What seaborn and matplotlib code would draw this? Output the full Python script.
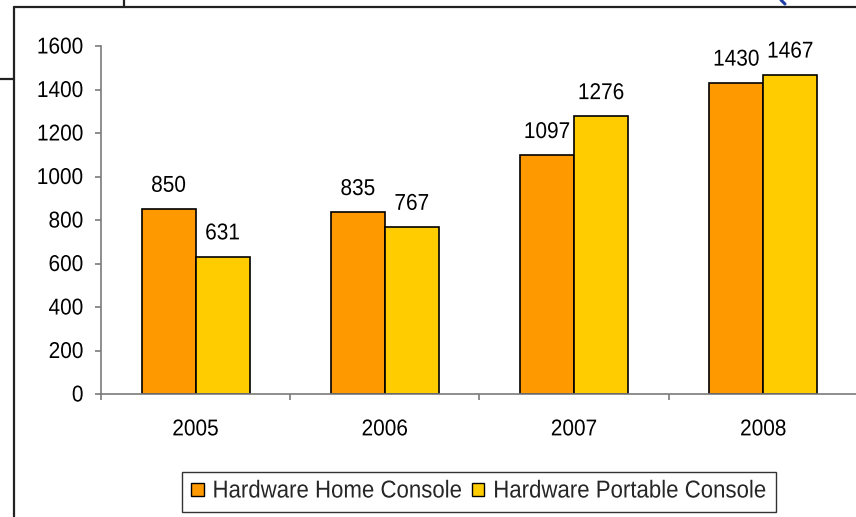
import matplotlib
matplotlib.use("Agg")
import matplotlib.pyplot as plt
from matplotlib.lines import Line2D
from matplotlib.ticker import FixedLocator, NullFormatter
from matplotlib.patheffects import AbstractPathEffect
from matplotlib.transforms import Affine2D
import seaborn as sns
import pandas as pd

years = ["2005", "2006", "2007", "2008"]
home_console = [850, 835, 1097, 1430]
portable_console = [631, 767, 1276, 1467]
series_names = ["Hardware Home Console", "Hardware Portable Console"]
colors = ["#FF9900", "#FFCC00"]
y_ticks = [0, 200, 400, 600, 800, 1000, 1200, 1400, 1600]

df = pd.DataFrame({
    "year": years * 2,
    "value": home_console + portable_console,
    "series": [series_names[0]] * len(years) + [series_names[1]] * len(years),
})


class VStretch(AbstractPathEffect):
    """Draw glyphs slightly taller than wide, stretched about the baseline."""

    def __init__(self, sy=1.1):
        super().__init__()
        self._sy = sy

    def draw_path(self, renderer, gc, tpath, affine, rgbFace=None):
        renderer.draw_path(gc, tpath, Affine2D().scale(1, self._sy) + affine, rgbFace)


sns.set_style("white")
plt.rcParams["font.family"] = ["Liberation Sans", "DejaVu Sans"]

fig = plt.figure(figsize=(8.56, 5.17), dpi=100)
ax = fig.add_axes([101 / 856, 1 - 394 / 517, 757 / 856, 348 / 517])

sns.barplot(data=df, x="year", y="value", hue="series", order=years,
            hue_order=series_names, palette=colors, width=0.57,
            edgecolor="black", linewidth=1.2, saturation=1, ax=ax,
            legend=True)

ax.set_ylim(0, 1600)
ax.set_xlim(-0.5, len(years) - 0.5)
ax.set_yticks(y_ticks)
ax.set_xlabel("")
ax.set_ylabel("")

for side in ["top", "right"]:
    ax.spines[side].set_visible(False)
for side in ["left", "bottom"]:
    ax.spines[side].set_color("#7a7a7a")
    ax.spines[side].set_linewidth(1.2)

ax.tick_params(axis="y", which="major", direction="out", length=4.5, width=1.2,
               color="#7a7a7a", labelsize=15, pad=8, left=True, labelcolor="black")
ax.tick_params(axis="x", which="major", length=0, labelsize=15, pad=19,
               labelcolor="black")
ax.xaxis.set_minor_locator(FixedLocator([i - 0.5 for i in range(len(years) + 1)]))
ax.xaxis.set_minor_formatter(NullFormatter())
ax.tick_params(axis="x", which="minor", direction="out", length=4.5, width=1.2,
               color="#7a7a7a", bottom=True)

stretch = [VStretch(1.1)]
for lbl in ax.get_xticklabels() + ax.get_yticklabels():
    lbl.set_path_effects(stretch)

# value labels above each bar
for container, vals in zip(ax.containers, [home_console, portable_console]):
    for rect, v in zip(container, vals):
        t = ax.annotate(f"{v}", (rect.get_x() + rect.get_width() / 2, v),
                        xytext=(0, 12.5), textcoords="offset points",
                        ha="center", va="baseline", fontsize=15, color="black")
        t.set_path_effects(stretch)

# legend along the bottom
leg = ax.get_legend()
if leg is not None:
    leg.remove()
handles, labels = ax.get_legend_handles_labels()
lg = fig.legend(handles, labels, loc="center", bbox_to_anchor=(479 / 856, 1 - 492 / 517),
                ncol=2, fontsize=16, frameon=True, fancybox=False,
                edgecolor="black", handlelength=0.55, handleheight=0.55,
                handletextpad=0.4, columnspacing=0.45, borderpad=0.42,
                borderaxespad=0)
lg.get_frame().set_linewidth(1.0)
for h in lg.legend_handles:
    h.set_edgecolor("black")
    h.set_linewidth(1.0)
for txt in lg.get_texts():
    txt.set_path_effects([VStretch(1.1)])

# surrounding chart frame lines
def fline(x0, y0, x1, y1, color="#222222", lw=1.6):
    fig.add_artist(Line2D([x0 / 856, x1 / 856], [1 - y0 / 517, 1 - y1 / 517],
                          transform=fig.transFigure, color=color, lw=lw))

fline(14, 7, 856, 7)
fline(14, 7, 14, 517)
fline(124, 0, 124, 7)
fline(0, 79, 14, 79)
fline(781, 0, 785, 4, color="#1f3fa8", lw=2.2)

fig.savefig("out.png", dpi=100, facecolor="white")
